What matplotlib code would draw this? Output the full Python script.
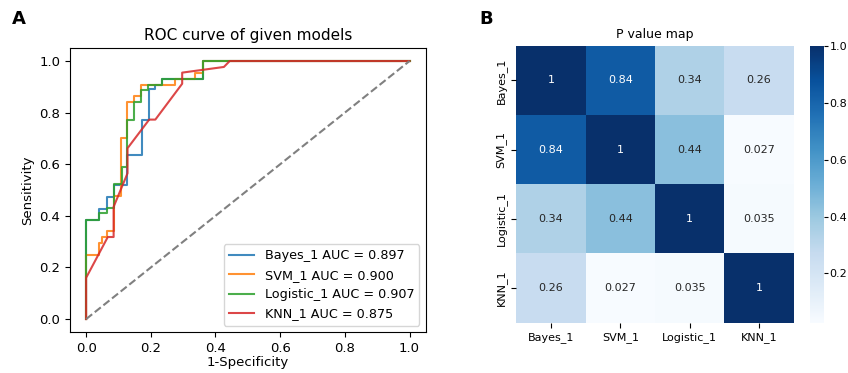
import numpy as np
import matplotlib
matplotlib.use("Agg")
import matplotlib.pyplot as plt
import seaborn as sns

# ROC step points (false positive rate, true positive rate) per model
models = ["Bayes_1", "SVM_1", "Logistic_1", "KNN_1"]
auc_values = [0.897, 0.900, 0.907, 0.875]

bayes_fpr = [0, 0, 0.041, 0.041, 0.065, 0.065, 0.086, 0.086, 0.127, 0.127, 0.172, 0.172,
             0.193, 0.193, 0.214, 0.214, 0.234, 0.234, 0.362, 0.362, 1.0]
bayes_tpr = [0, 0.384, 0.384, 0.425, 0.425, 0.474, 0.474, 0.52, 0.52, 0.637, 0.637, 0.773,
             0.773, 0.89, 0.89, 0.909, 0.909, 0.932, 0.932, 1.0, 1.0]

svm_fpr = [0, 0, 0.041, 0.041, 0.05, 0.05, 0.064, 0.064, 0.085, 0.085, 0.108, 0.108,
           0.127, 0.127, 0.149, 0.149, 0.17, 0.17, 0.276, 0.276, 0.338, 0.338, 0.362, 0.362, 1.0]
svm_tpr = [0, 0.25, 0.25, 0.295, 0.295, 0.318, 0.318, 0.34, 0.34, 0.477, 0.477, 0.70,
           0.70, 0.84, 0.84, 0.864, 0.864, 0.909, 0.909, 0.932, 0.932, 0.955, 0.955, 1.0, 1.0]

logistic_fpr = [0, 0, 0.041, 0.041, 0.065, 0.065, 0.086, 0.086, 0.11, 0.11, 0.127, 0.127,
                0.149, 0.149, 0.17, 0.17, 0.191, 0.191, 0.234, 0.234, 0.362, 0.362, 1.0]
logistic_tpr = [0, 0.384, 0.384, 0.41, 0.41, 0.43, 0.43, 0.523, 0.523, 0.59, 0.59, 0.773,
                0.773, 0.841, 0.841, 0.886, 0.886, 0.909, 0.909, 0.932, 0.932, 1.0, 1.0]

knn_fpr = [0, 0, 0.067, 0.085, 0.085, 0.128, 0.128, 0.195, 0.214, 0.297, 0.297, 0.426, 0.444, 1.0]
knn_tpr = [0, 0.16, 0.318, 0.318, 0.435, 0.565, 0.662, 0.773, 0.773, 0.912, 0.955, 0.977, 1.0, 1.0]

# Pairwise DeLong p-values between models
p_values = [
    [1.0, 0.84, 0.34, 0.26],
    [0.84, 1.0, 0.44, 0.027],
    [0.34, 0.44, 1.0, 0.035],
    [0.26, 0.027, 0.035, 1.0],
]

fig = plt.figure(figsize=(8.48, 3.73), dpi=100)

# Panel A: ROC curves
ax1 = fig.add_axes([0.0825, 0.110, 0.4195, 0.761])
curves = [(bayes_fpr, bayes_tpr), (svm_fpr, svm_tpr),
          (logistic_fpr, logistic_tpr), (knn_fpr, knn_tpr)]
colors = ["#1f77b4", "#ff7f0e", "#2ca02c", "#d62728"]
for name, (fpr, tpr), auc, c in zip(models, curves, auc_values, colors):
    ax1.plot(fpr, tpr, color=c, lw=1.5, alpha=0.85, label=f"{name} AUC = {auc:.3f}")
ax1.plot([0, 1], [0, 1], linestyle="--", color="grey", lw=1.5)
ax1.set_xlim(-0.05, 1.05)
ax1.set_ylim(-0.05, 1.05)
ax1.set_xticks(np.arange(0, 1.01, 0.2))
ax1.set_yticks(np.arange(0, 1.01, 0.2))
ax1.tick_params(labelsize=9.5)
ax1.set_xlabel("1-Specificity", fontsize=9.5, labelpad=1)
ax1.set_ylabel("Sensitivity", fontsize=9.5)
ax1.set_title("ROC curve of given models", fontsize=11)
ax1.legend(loc="lower right", fontsize=9.2, handlelength=2.0)

# Panel B: p-value heatmap
ax2 = fig.add_axes([0.609, 0.135, 0.327, 0.742])
cax = fig.add_axes([0.955, 0.135, 0.0165, 0.742])
sns.heatmap(np.array(p_values), annot=True, fmt=".2g", cmap="Blues",
            xticklabels=models, yticklabels=models, ax=ax2, cbar_ax=cax,
            annot_kws={"fontsize": 8})
ax2.set_title("P value map", fontsize=9)
ax2.tick_params(labelsize=8)
ax2.set_yticklabels(models, rotation=90, va="center", fontsize=8)
ax2.set_xticklabels(models, rotation=0, fontsize=8)
cax.tick_params(labelsize=8, length=3, pad=1)
cax.set_yticks([0.2, 0.4, 0.6, 0.8, 1.0])
cax.set_yticklabels(["0.2", "0.4", "0.6", "0.8", "1.0"])

fig.text(0.014, 0.935, "A", fontsize=13, fontweight="bold")
fig.text(0.565, 0.935, "B", fontsize=13, fontweight="bold")

fig.savefig("out.png", dpi=100)
